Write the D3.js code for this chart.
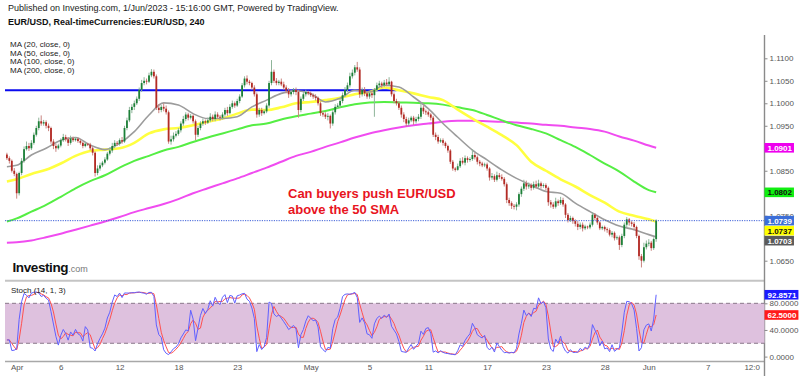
<!DOCTYPE html>
<html>
<head>
<meta charset="utf-8">
<script src="https://cdn.jsdelivr.net/npm/d3@7"></script>
<style>
  body { margin: 0; background: #fff; }
  svg { display: block; font-family: "Liberation Sans", Arial, sans-serif; }
</style>
</head>
<body>
<script>
"use strict";

// EUR/USD 4h candles, prices in pips above 1.0000 (e.g. 1029 = 1.1029)
// first bar is Mar 31, bars 0.. start Apr 3 (6 bars per trading day)
const firstOpen = 886;
const closes = [
  878, 872, 850, 843,
  800, 845, 872, 898, 905, 900,
  912, 930, 945, 960, 955, 958,
  950, 945, 915, 905, 900, 906,
  918, 925, 920, 912, 922, 918,
  921, 916, 912, 905, 910, 908,
  900, 890, 845, 855, 862, 868,
  875, 888, 895, 905, 912, 910,
  918, 915, 945, 962, 985, 992,
  1000, 1010, 1030, 1045, 1050, 1048,
  1062, 1070, 1060, 990, 985, 992,
  988, 980, 915, 920, 928, 932,
  940, 955, 965, 975, 968, 972,
  960, 930, 945, 955, 960, 957,
  962, 970, 965, 975, 970, 968,
  975, 985, 978, 992, 1000, 995,
  1005, 1015, 1040, 1055, 1048, 1045,
  1035, 1020, 975, 985, 978, 982,
  995, 1045, 1070, 1050, 1045, 1048,
  1042, 1035, 1028, 1020, 1025, 1030,
  1025, 985, 1010, 1020, 1025, 1022,
  1018, 1015, 1012, 1000, 978, 975,
  970, 972, 955, 980, 992, 995,
  1005, 1018, 1030, 1040, 1060, 1068,
  1080, 1075, 1020, 1030, 1022, 1015,
  1022, 1018, 1030, 1040, 1044, 1040,
  1046, 1042, 1048, 1020, 1005, 1000,
  990, 975, 965, 955, 962, 968,
  960, 965, 970, 990, 982, 980,
  975, 968, 930, 925, 915, 918,
  912, 905, 895, 870, 855, 852,
  860, 872, 868, 878, 874, 876,
  885, 880, 870, 866, 862, 864,
  855, 835, 838, 830, 840, 836,
  832, 820, 785, 778, 772, 770,
  775, 798, 810, 822, 815, 818,
  812, 820, 815, 822, 816, 818,
  812, 780, 775, 770, 782, 778,
  785, 775, 752, 740, 745, 738,
  732, 725, 730, 722, 726, 724,
  730, 752, 745, 735, 722, 725,
  720, 718, 708, 712, 700, 702,
  685, 705, 730, 742, 735, 732,
  725, 705, 660, 650, 680, 688,
  690, 678, 698, 739
];
const highs = [
  890, 882, 875, 856,
  846, 848, 878, 904, 915, 912,
  918, 935, 950, 968, 973, 963,
  962, 955, 948, 920, 910, 910,
  922, 932, 930, 925, 928, 926,
  925, 924, 920, 915, 914, 912,
  912, 904, 893, 862, 868, 872,
  880, 892, 902, 912, 918, 916,
  922, 925, 950, 968, 992, 998,
  1006, 1015, 1035, 1052, 1058, 1055,
  1068, 1076, 1075, 1064, 998, 996,
  1000, 995, 984, 928, 935, 938,
  945, 960, 972, 980, 979, 976,
  975, 964, 950, 960, 966, 964,
  968, 978, 975, 982, 980, 974,
  980, 990, 992, 998, 1006, 1004,
  1010, 1020, 1045, 1060, 1062, 1052,
  1048, 1040, 1024, 990, 990, 986,
  1000, 1050, 1096, 1075, 1056, 1052,
  1055, 1048, 1040, 1034, 1030, 1034,
  1035, 1030, 1015, 1025, 1030, 1028,
  1026, 1022, 1020, 1015, 1004, 982,
  980, 978, 975, 985, 998, 1000,
  1010, 1024, 1036, 1046, 1068, 1075,
  1085, 1092, 1080, 1035, 1036, 1026,
  1026, 1028, 1034, 1046, 1050, 1048,
  1052, 1054, 1058, 1050, 1024, 1010,
  1005, 995, 980, 970, 968, 972,
  972, 970, 976, 1000, 995, 986,
  984, 978, 972, 935, 930, 922,
  922, 915, 908, 898, 874, 858,
  866, 878, 880, 884, 882, 880,
  898, 890, 884, 874, 870, 868,
  868, 858, 845, 842, 848, 845,
  842, 836, 824, 790, 782, 776,
  780, 802, 815, 830, 828, 824,
  822, 826, 828, 830, 826, 822,
  822, 815, 785, 780, 790, 786,
  792, 790, 778, 756, 750, 748,
  742, 738, 735, 735, 730, 728,
  735, 758, 756, 748, 738, 728,
  728, 724, 722, 716, 715, 706,
  706, 710, 735, 747, 745, 738,
  736, 728, 708, 665, 690, 695,
  698, 694, 702, 742
];
const lows = [
  874, 866, 846, 838,
  788, 795, 840, 868, 895, 894,
  896, 908, 926, 940, 950, 950,
  944, 938, 910, 898, 892, 897,
  902, 914, 915, 905, 908, 914,
  915, 912, 908, 900, 902, 905,
  895, 884, 837, 840, 850, 858,
  864, 872, 884, 890, 900, 905,
  906, 910, 912, 940, 958, 978,
  985, 996, 1005, 1025, 1040, 1042,
  1045, 1058, 1055, 985, 978, 980,
  982, 975, 910, 908, 915, 924,
  928, 935, 950, 960, 962, 964,
  955, 918, 925, 940, 950, 952,
  954, 958, 960, 960, 965, 962,
  964, 970, 972, 975, 988, 990,
  992, 1000, 1012, 1035, 1042, 1040,
  1030, 1015, 968, 970, 972, 975,
  978, 990, 1040, 1045, 1040, 1040,
  1038, 1030, 1022, 1012, 1015, 1020,
  1018, 968, 980, 1005, 1015, 1018,
  1014, 1010, 1006, 995, 972, 970,
  965, 962, 944, 950, 975, 988,
  990, 1000, 1014, 1025, 1035, 1055,
  1062, 1070, 1012, 1015, 1016, 1010,
  1010, 1012, 970, 1026, 1036, 1034,
  1036, 1038, 1040, 1015, 1000, 995,
  985, 968, 958, 948, 950, 958,
  952, 955, 960, 965, 976, 974,
  970, 962, 925, 918, 910, 912,
  906, 900, 890, 865, 850, 848,
  850, 856, 864, 862, 868, 870,
  872, 875, 864, 860, 858, 858,
  850, 828, 830, 825, 826, 832,
  828, 815, 778, 772, 765, 764,
  762, 770, 792, 805, 808, 810,
  806, 808, 810, 812, 810, 812,
  806, 772, 768, 765, 766, 772,
  774, 770, 745, 735, 736, 732,
  726, 718, 720, 715, 718, 720,
  720, 726, 740, 730, 718, 718,
  715, 712, 704, 702, 695, 696,
  674, 680, 700, 725, 728, 726,
  718, 700, 652, 635, 646, 675,
  682, 672, 674, 692
];

// moving averages read at the start of each trading day (plus first / last bar)
const ma20 = [859, 862, 885, 900, 918, 924, 907, 897, 911, 937, 974, 1001, 996, 977, 966, 966, 970, 992, 1007, 1022, 1028, 1022, 1003, 1011, 1029, 1025, 1040, 1036, 1014, 988, 955, 925, 896, 874, 852, 833, 818, 804, 800, 778, 759, 741, 727, 719, 708, 703];
const ma50 = [826, 831, 843, 852, 866, 883, 894, 897, 900, 912, 933, 942, 945, 951, 959, 966, 977, 986, 985, 991, 1000, 1003, 1007, 1012, 1020, 1025, 1035, 1029, 1022, 1014, 1007, 986, 966, 948, 929, 907, 870, 850, 831, 815, 796, 779, 759, 750, 742, 737];
const ma100 = [737, 744, 759, 774, 792, 811, 827, 840, 857, 872, 883, 895, 903, 914, 924, 933, 942, 951, 955, 964, 971, 977, 983, 991, 998, 1002, 1003, 1002, 1001, 1000, 997, 991, 985, 974, 962, 951, 943, 933, 918, 903, 885, 866, 848, 826, 807, 802];
const ma200 = [690, 691, 695, 702, 710, 719, 728, 737, 747, 758, 767, 776, 787, 800, 811, 822, 833, 845, 857, 870, 883, 892, 903, 913, 924, 933, 940, 946, 951, 955, 959, 961, 961, 960, 959, 957, 955, 952, 950, 946, 943, 937, 926, 917, 906, 901];

const maNames = ["MA (20, close, 0)", "MA (50, close, 0)", "MA (100, close, 0)", "MA (200, close, 0)"];
const resistance = 1029;
const resistanceBars = [-5, 155];

const timeLabels = ["Apr", "6", "12", "18", "23", "May", "5", "11", "17", "23", "28", "Jun", "7", "12:0"];
const timeBars = [0, 18, 42, 66, 90, 120, 144, 168, 192, 216, 240, 258, 282, 300];
// 1.0700 / 1.0800 / 1.0900 sit under the value badges in the original
const priceTicks = [650, 750, 850, 950, 1000, 1050, 1100];
const stochTicks = [0, 40, 80];

const w = 800, h = 376;
const left = 5, axisX = 764.5;

const svg = d3.select("body").append("svg").attr("width", w).attr("height", h);

const x = d3.scaleLinear().domain([0, 258]).range([16.7, 648.8]);
const y = d3.scaleLinear().domain([650, 1100]).range([260.7, 58.3]);
const ys = d3.scaleLinear().domain([0, 100]).range([356.6, 290]);
const fmtP = p => (1 + p / 10000).toFixed(4);

const bars = closes.map((c, k) => ({
  i: k - 4,
  o: k === 0 ? firstOpen : closes[k - 1],
  h: highs[k], l: lows[k], c: c
}));

// stochastic (14, 1, 3)
const kLine = bars.map((b, k) => {
  const win = bars.slice(Math.max(0, k - 13), k + 1);
  const hh = d3.max(win, d => d.h), ll = d3.min(win, d => d.l);
  return {i: b.i, v: (b.c - ll) / (hh - ll) * 100};
});
const dLine = kLine.map((p, k) => ({i: p.i, v: d3.mean(kLine.slice(Math.max(0, k - 2), k + 1), d => d.v)}));

// clips
const defs = svg.append("defs");
defs.append("clipPath").attr("id", "main").append("rect").attr("x", left).attr("y", 34).attr("width", axisX - left).attr("height", 246);
defs.append("clipPath").attr("id", "sto").append("rect").attr("x", left).attr("y", 282).attr("width", axisX - left).attr("height", 79);

// header texts
svg.append("text").attr("x", 8).attr("y", 11).attr("font-size", 9).attr("fill", "#222")
  .text("Published on Investing.com, 1/Jun/2023 - 15:16:00 GMT, Powered by TradingView.");
svg.append("text").attr("x", 8).attr("y", 25).attr("font-size", 9).attr("font-weight", "bold").attr("fill", "#111")
  .text("EUR/USD, Real-timeCurrencies:EUR/USD, 240");
svg.selectAll("text.legend").data(maNames).enter().append("text").attr("class", "legend")
  .attr("x", 10).attr("y", (d, i) => 47 + i * 8.5).attr("font-size", 8).attr("fill", "#222").text(d => d);

// main panel
const main = svg.append("g").attr("clip-path", "url(#main)");

main.append("line").attr("x1", x(resistanceBars[0])).attr("x2", x(resistanceBars[1]))
  .attr("y1", y(resistance)).attr("y2", y(resistance)).attr("stroke", "#0a0aef").attr("stroke-width", 2.2);

const maBars = [-4].concat(d3.range(0, 259, 6), [261]);
const maLine = d3.line().x((d, i) => x(maBars[i])).y(d => y(d)).curve(d3.curveMonotoneX);
[[ma200, "#f04cf0", 2], [ma100, "#55ee44", 2], [ma50, "#ffff40", 2.6], [ma20, "#9c9c9c", 1.6]].forEach(([s, col, sw]) => {
  main.append("path").attr("d", maLine(s)).attr("fill", "none").attr("stroke", col).attr("stroke-width", sw);
});

const up = "#1d8038", down = "#b32b25";
const cg = main.append("g");
cg.selectAll("line").data(bars).enter().append("line")
  .attr("x1", d => x(d.i)).attr("x2", d => x(d.i))
  .attr("y1", d => y(d.h)).attr("y2", d => y(d.l))
  .attr("stroke", d => d.c >= d.o ? "#8fb59a" : "#c98580").attr("stroke-width", 1);
cg.selectAll("rect").data(bars).enter().append("rect")
  .attr("x", d => x(d.i) - 0.9).attr("width", 1.8)
  .attr("y", d => y(Math.max(d.o, d.c)))
  .attr("height", d => Math.max(0.8, Math.abs(y(d.o) - y(d.c))))
  .attr("fill", d => d.c >= d.o ? up : down);

const last = bars[bars.length - 1].c;
svg.append("line").attr("x1", left).attr("x2", axisX).attr("y1", y(last)).attr("y2", y(last))
  .attr("stroke", "#3d5fd8").attr("stroke-width", 1).attr("stroke-dasharray", "1.2,1.2");

// annotation
const note = svg.append("text").attr("x", 288).attr("font-size", 13).attr("font-weight", "bold").attr("fill", "#e8141e");
note.append("tspan").attr("x", 288).attr("y", 198).text("Can buyers push EUR/USD");
note.append("tspan").attr("x", 288).attr("y", 214).text("above the 50 SMA");

// logo
const logo = svg.append("text").attr("x", 12.5).attr("y", 272);
logo.append("tspan").attr("font-size", 13.5).attr("font-weight", "bold").attr("fill", "#111").attr("letter-spacing", -0.4).text("Investing");
logo.append("tspan").attr("font-size", 9).attr("fill", "#777").text(".com");

// separators
svg.append("line").attr("x1", left).attr("x2", axisX).attr("y1", 280.8).attr("y2", 280.8).attr("stroke", "#c4c4c4").attr("stroke-width", 2);
svg.append("line").attr("x1", left).attr("x2", axisX).attr("y1", 361.5).attr("y2", 361.5).attr("stroke", "#a8a8a8").attr("stroke-width", 1.4);
svg.append("line").attr("x1", axisX).attr("x2", axisX).attr("y1", 35).attr("y2", h).attr("stroke", "#8a8a8a").attr("stroke-width", 1.4);

// stochastic panel
svg.append("rect").attr("x", left).attr("width", axisX - left).attr("y", ys(80)).attr("height", ys(20) - ys(80)).attr("fill", "#dec1de");
[20, 80].forEach(v => svg.append("line").attr("x1", left).attr("x2", axisX).attr("y1", ys(v)).attr("y2", ys(v))
  .attr("stroke", "#8a788a").attr("stroke-width", 1).attr("stroke-dasharray", "4,3"));
const sto = svg.append("g").attr("clip-path", "url(#sto)");
const sLine = d3.line().x(d => x(d.i)).y(d => ys(d.v));
sto.append("path").attr("d", sLine(dLine)).attr("fill", "none").attr("stroke", "#ff5050").attr("stroke-width", 1);
sto.append("path").attr("d", sLine(kLine)).attr("fill", "none").attr("stroke", "#6060ff").attr("stroke-width", 1);
svg.append("text").attr("x", 11).attr("y", 293).attr("font-size", 8).attr("fill", "#222").text("Stoch (14, 1, 3)");

// axes
const styleAxis = g => {
  g.select(".domain").remove();
  g.selectAll("text").attr("font-size", 8).attr("fill", "#555").attr("font-family", "Liberation Sans, Arial, sans-serif");
  g.selectAll("line").attr("stroke", "#8a8a8a");
};
svg.append("g").attr("transform", `translate(${axisX},0)`)
  .call(d3.axisRight(y).tickValues(priceTicks).tickSize(3).tickPadding(2).tickFormat(fmtP)).call(styleAxis);
svg.append("g").attr("transform", `translate(${axisX},0)`)
  .call(d3.axisRight(ys).tickValues(stochTicks).tickSize(3).tickPadding(2).tickFormat(d => d.toFixed(4))).call(styleAxis);
svg.append("g").attr("transform", "translate(0,361.5)")
  .call(d3.axisBottom(x).tickValues(timeBars).tickSize(0).tickPadding(3).tickFormat((d, i) => timeLabels[i])).call(styleAxis);

// value badges, pushed apart when they collide
function badges(list) {
  list.sort((a, b) => a.y - b.y);
  list.forEach((b, k) => { if (k > 0 && b.y - list[k - 1].y < 10) b.y = list[k - 1].y + 10; });
  const g = svg.append("g").selectAll("g").data(list).enter().append("g").attr("transform", d => `translate(${axisX},${d.y})`);
  const r = g.append("rect").attr("x", 0).attr("y", -4.8).attr("height", 9.6).attr("fill", d => d.bg);
  const t = g.append("text").attr("x", 3).attr("y", 3).attr("font-size", 8).attr("font-weight", "bold")
    .attr("fill", d => d.fg).text(d => d.t);
  r.attr("width", (d, i) => t.nodes()[i].getComputedTextLength() + 5);
}
badges([
  {y: y(ma200[ma200.length - 1]), t: fmtP(ma200[ma200.length - 1]), bg: "#ee00ee", fg: "#fff"},
  {y: y(ma100[ma100.length - 1]), t: fmtP(ma100[ma100.length - 1]), bg: "#11ee11", fg: "#111"},
  {y: y(last), t: fmtP(last), bg: "#3c6ed8", fg: "#fff"},
  {y: y(ma50[ma50.length - 1]), t: fmtP(ma50[ma50.length - 1]), bg: "#ffff00", fg: "#111"},
  {y: y(ma20[ma20.length - 1]), t: fmtP(ma20[ma20.length - 1]), bg: "#5a5a5a", fg: "#fff"}
]);
const kLast = kLine[kLine.length - 1].v, dLast = dLine[dLine.length - 1].v;
badges([
  {y: ys(kLast), t: kLast.toFixed(4), bg: "#1a1aff", fg: "#fff"},
  {y: ys(dLast), t: dLast.toFixed(4), bg: "#ff1a1a", fg: "#fff"}
]);
</script>
</body>
</html>
